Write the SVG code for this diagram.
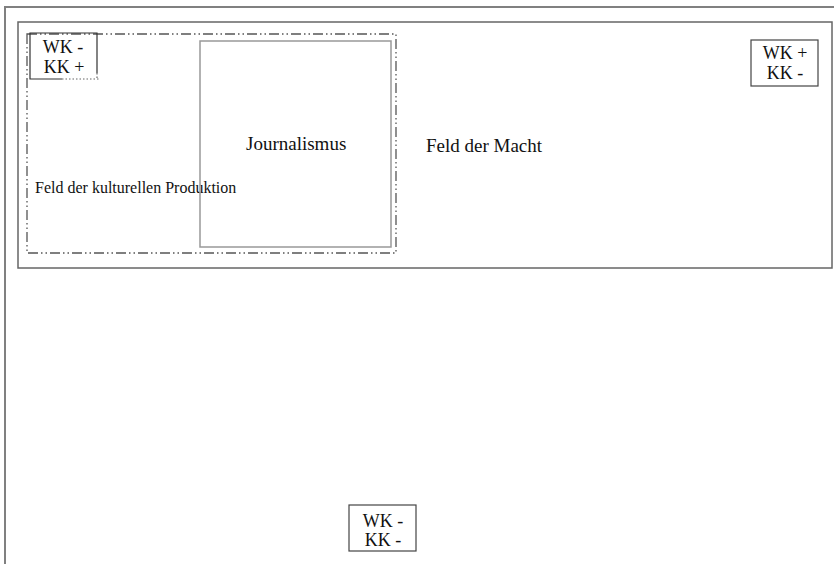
<svg xmlns="http://www.w3.org/2000/svg" width="834" height="564" viewBox="0 0 834 564">
<style>
text{font-family:"Liberation Serif","Times New Roman",serif;fill:#111}
.lbl{font-size:19px}
.small{font-size:16px}
.wk{font-size:18px;text-anchor:middle}
.box{fill:#fff;stroke:#444;stroke-width:1.2}
</style>
<rect width="834" height="564" fill="#fff"/>
<g id="outer-frame">
<path d="M5,570 V7 H840" fill="none" stroke="#808080" stroke-width="2"/>
</g>
<g id="feld-der-macht">
<rect x="18" y="22" width="814" height="246" fill="none" stroke="#666" stroke-width="1.5"/>
<text class="lbl" x="426" y="152">Feld der Macht</text>
</g>
<g id="feld-kulturelle-produktion">
<rect x="27" y="34" width="369" height="219" fill="none" stroke="#555" stroke-width="1.3" stroke-dasharray="10 3 1.5 3 1.5 3"/>
<text class="small" x="35" y="193">Feld der kulturellen Produktion</text>
</g>
<g id="journalismus">
<rect x="200" y="41" width="191" height="206" fill="none" stroke="#999" stroke-width="1.5"/>
<text class="lbl" x="246" y="150">Journalismus</text>
</g>
<g id="wk-minus-kk-plus">
<path d="M62,79 H30 V33 H97 V73" fill="none" stroke="#333" stroke-width="1.2"/>
<path d="M62,79 H100 M97,73 V79" fill="none" stroke="#666" stroke-width="1.2" stroke-dasharray="1.5 2"/>
<text class="wk" x="63" y="53">WK -</text>
<text class="wk" x="64" y="73">KK +</text>
</g>
<g id="wk-plus-kk-minus">
<rect class="box" x="751" y="40" width="67" height="46"/>
<text class="wk" x="785" y="59">WK +</text>
<text class="wk" x="785" y="79">KK -</text>
</g>
<g id="wk-minus-kk-minus">
<rect class="box" x="349" y="505" width="67" height="46"/>
<text class="wk" x="383" y="527">WK -</text>
<text class="wk" x="383" y="546">KK -</text>
</g>
<g id="connectors"/>
</svg>
